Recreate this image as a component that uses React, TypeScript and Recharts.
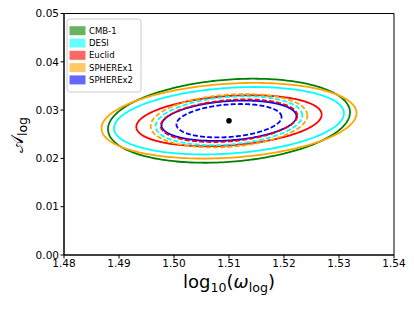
import React from 'react';
import { ComposedChart, Line, Scatter, XAxis, YAxis, ReferenceArea, Customized } from 'recharts';

const experiments = ['CMB-1', 'DESI', 'Euclid', 'SPHEREx1', 'SPHEREx2'];
const colors = ['#008000', '#00ffff', '#ff0000', '#ffa500', '#0000ff'];
const legendColors = ['#66b366', '#66ffff', '#ff6666', '#ffc966', '#6666ff'];
const centerX = 1.51;
const centerY = 0.0278;
// outer (solid) contours: half extents in x and y, and correlation
const solidHalfX = [0.0220, 0.0209, 0.01685, 0.02318, 0.01227];
const solidHalfY = [0.0087, 0.00698, 0.00528, 0.00783, 0.00418];
// inner (dashed) contours
const dashedHalfX = [null, 0.01333, 0.01242, 0.01424, 0.00955];
const dashedHalfY = [null, 0.00507, 0.00441, 0.00553, 0.00346];
const correlation = [0.2, 0.22, 0.24, 0.2, 0.22];
const xTicks = [1.48, 1.49, 1.5, 1.51, 1.52, 1.53, 1.54];
const yTicks = [0, 0.01, 0.02, 0.03, 0.04, 0.05];

const FONT = '"DejaVu Sans", sans-serif';

function contour(hx: number, hy: number, rho: number) {
  const pts: { x: number; y: number }[] = [];
  const n = 240;
  const s = Math.sqrt(1 - rho * rho);
  for (let i = 0; i <= n; i++) {
    const t = (2 * Math.PI * i) / n;
    pts.push({
      x: centerX + hx * Math.cos(t),
      y: centerY + hy * (rho * Math.cos(t) + s * Math.sin(t)),
    });
  }
  return pts;
}

const Labels = () => (
  <g fontFamily={FONT}>
    <text x={229} y={288} textAnchor="middle" fontSize={18} fill="#000">
      log<tspan fontSize={12.6} dy={4}>10</tspan>
      <tspan fontSize={18} dy={-4}>(</tspan>
      <tspan fontStyle="italic">ω</tspan>
      <tspan fontSize={12.6} dy={4}>log</tspan>
      <tspan fontSize={18} dy={-4}>)</tspan>
    </text>
    <text transform="translate(23,135) rotate(-90)" x={0} y={0} textAnchor="middle" fontSize={18} fill="#000">
      <tspan fontFamily='"DejaVu Serif", serif'>𝒜</tspan>
      <tspan fontSize={12.6} dy={4}>log</tspan>
    </text>
    <rect x={67} y={19} width={74} height={73} rx={3} fill="rgba(255,255,255,0.8)" stroke="#cccccc" strokeWidth={1} />
    {experiments.map((name, i) => {
      const cy = 30.7 + i * 12.3;
      return (
        <g key={name}>
          <rect x={69.5} y={cy - 4.5} width={16} height={9} fill={legendColors[i]} />
          <text x={89} y={cy} dominantBaseline="central" fontSize={8.5} fill="#000">
            {name}
          </text>
        </g>
      );
    })}
  </g>
);

export default function App() {
  return (
    <div style={{ position: 'absolute', left: 0, top: 0, background: '#fff' }}>
      <ComposedChart width={414} height={311} margin={{ top: 13.5, right: 20, bottom: 0, left: 0 }}>
        <XAxis
          dataKey="x"
          type="number"
          domain={[1.48, 1.54]}
          ticks={xTicks}
          allowDataOverflow
          tickFormatter={(v: number) => v.toFixed(2)}
          height={56}
          tickSize={3.5}
          tickMargin={1.5}
          stroke="#000"
          tick={{ fill: '#000', fontSize: 10.5, fontFamily: FONT }}
        />
        <YAxis
          dataKey="y"
          type="number"
          domain={[0, 0.05]}
          ticks={yTicks}
          allowDataOverflow
          tickFormatter={(v: number) => v.toFixed(2)}
          width={64}
          tickSize={3.5}
          tickMargin={1.5}
          stroke="#000"
          tick={{ fill: '#000', fontSize: 10.5, fontFamily: FONT }}
        />
        <ReferenceArea x1={1.48} x2={1.54} y1={0} y2={0.05} fill="none" stroke="#000" strokeWidth={1} ifOverflow="visible" />
        {experiments.map((name, i) => (
          <Line
            key={name + '-solid'}
            data={contour(solidHalfX[i], solidHalfY[i], correlation[i])}
            dataKey="y"
            stroke={colors[i]}
            strokeWidth={1.8}
            dot={false}
            activeDot={false}
            type="linear"
            isAnimationActive={false}
          />
        ))}
        {experiments.map((name, i) =>
          dashedHalfX[i] == null ? null : (
            <Line
              key={name + '-dashed'}
              data={contour(dashedHalfX[i] as number, dashedHalfY[i] as number, correlation[i])}
              dataKey="y"
              stroke={colors[i]}
              strokeWidth={1.8}
              strokeDasharray="5 2.2"
              dot={false}
              activeDot={false}
              type="linear"
              isAnimationActive={false}
            />
          )
        )}
        <Scatter
          data={[{ x: centerX, y: centerY }]}
          dataKey="y"
          fill="#000"
          isAnimationActive={false}
          shape={(p: any) => <circle cx={p.cx} cy={p.cy} r={2.8} fill="#000" />}
        />
        <Customized component={Labels} />
      </ComposedChart>
    </div>
  );
}
